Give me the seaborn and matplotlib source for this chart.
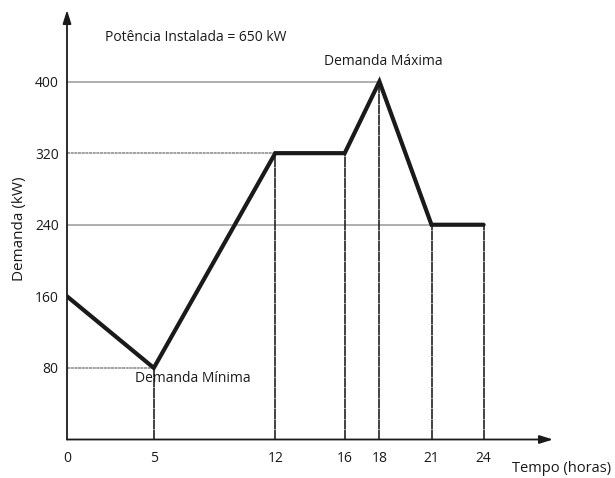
import matplotlib
matplotlib.use("Agg")
import matplotlib.pyplot as plt
import seaborn as sns
import pandas as pd

hours = [0, 5, 12, 16, 18, 21, 24]
demand = [160, 80, 320, 320, 400, 240, 240]
xticks = [0, 5, 12, 16, 18, 21, 24]
yticks = [80, 160, 240, 320, 400]

sns.set_style("white")
plt.rcParams['font.family'] = ['Open Sans', 'DejaVu Sans']

fig = plt.figure(figsize=(6.15, 4.78), dpi=100)
W, H = 615, 478
x0, x1 = 67, 553
y0, y1 = 439.5, 10
ax = fig.add_axes([x0 / W, 1 - y0 / H, (x1 - x0) / W, (y0 - y1) / H])
xmax = 28.0
ymax = 480
ax.set_xlim(0, xmax)
ax.set_ylim(0, ymax)

df = pd.DataFrame({"h": hours, "d": demand})

# horizontal reference lines
guides = [(80, 5, (0, (2, 0.4)), '#888888'), (320, 12, (0, (2, 0.4)), '#888888'),
          (400, 18, '-', '#999999'), (240, 21, '-', '#999999')]
for yv, xe, ls, c in guides:
    ax.plot([0, xe], [yv, yv], color=c, lw=1.1, ls=ls, zorder=1)
# vertical drop lines
for h, d in zip(hours[1:], demand[1:]):
    ax.plot([h, h], [0, d], color='#222222', lw=1.2, ls=(0, (6, 0.3)), zorder=1)

sns.lineplot(data=df, x="h", y="d", ax=ax, color='#1a1a1a', lw=3, zorder=3,
             solid_joinstyle='miter')

for s in ax.spines.values():
    s.set_visible(False)
ax.annotate('', xy=(xmax, 0), xytext=(0, 0), xycoords='data',
            arrowprops=dict(arrowstyle='-|>,head_length=0.8,head_width=0.25', color='#1a1a1a', lw=1.3,
                            shrinkA=0, shrinkB=0), annotation_clip=False)
ax.annotate('', xy=(0, ymax), xytext=(0, 0), xycoords='data',
            arrowprops=dict(arrowstyle='-|>,head_length=0.8,head_width=0.25', color='#1a1a1a', lw=1.3,
                            shrinkA=0, shrinkB=0), annotation_clip=False)

ax.set_xticks(xticks)
ax.set_xticklabels([str(v) for v in xticks])
ax.set_yticks(yticks)
ax.set_yticklabels([str(v) for v in yticks])
ax.tick_params(axis='both', length=0, labelsize=10, colors='#1a1a1a')
ax.tick_params(axis='x', pad=8)
ax.tick_params(axis='y', pad=6)
ax.set_xlabel('')
ax.set_ylabel('Demanda (kW)', fontsize=11, color='#1a1a1a', labelpad=8)
ax.yaxis.set_label_coords(-0.082, 0.49)

ax.text(31.35, -32, 'Tempo (horas)', fontsize=10.5, ha='right', va='center', color='#1a1a1a', clip_on=False)
ax.text(2.2, 449, 'Potência Instalada = 650 kW', fontsize=10, ha='left', va='center', color='#1a1a1a')
ax.text(18.2, 422, 'Demanda Máxima', fontsize=10, ha='center', va='center', color='#1a1a1a')
ax.text(3.9, 68, 'Demanda Mínima', fontsize=10, ha='left', va='center', color='#1a1a1a', zorder=4)

fig.savefig('out.png', dpi=100)
